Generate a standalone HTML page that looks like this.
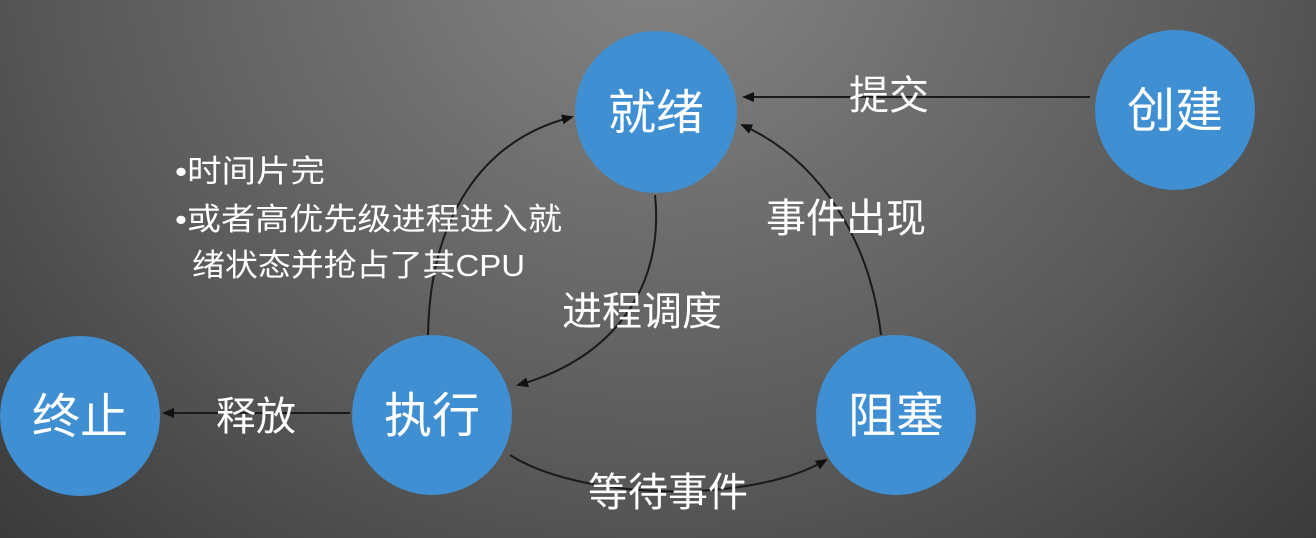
<!DOCTYPE html>
<html><head><meta charset="utf-8"><style>
html,body{margin:0;padding:0;width:1316px;height:538px;overflow:hidden;background:#3a3a3a}
svg{display:block}
text{font-family:"Liberation Sans","Noto Sans CJK SC",sans-serif;fill:#fff}
</style></head><body>
<svg width="1316" height="538" viewBox="0 0 1316 538" xmlns="http://www.w3.org/2000/svg">
<defs>
<radialGradient id="bg" cx="0.5" cy="-0.05" r="0.75" gradientTransform="translate(0.5 0) scale(1 2.2) translate(-0.5 0)">
<stop offset="0" stop-color="#858585"/>
<stop offset="0.6" stop-color="#595959"/>
<stop offset="1" stop-color="#363636"/>
</radialGradient>
<marker id="ah" markerWidth="12" markerHeight="10" refX="10" refY="5" orient="auto" markerUnits="userSpaceOnUse">
<path d="M0,0 L12,5 L0,10 Z" fill="#111"/>
</marker>
</defs>
<rect width="1316" height="538" fill="url(#bg)"/>
<g stroke="#1a1a1a" stroke-width="2" fill="none" marker-end="url(#ah)">
<path d="M1090,97 L744,97"/>
<path d="M350,413 L164,413"/>
<path d="M428,335 C430,220 480,140 572,117"/>
<path d="M655,195 C665,290 610,360 518,385"/>
<path d="M881,335 C870,240 820,160 742,125"/>
<path d="M510,455 C580,500 750,505 826,460"/>
</g>
<g fill="#3f8fd2">
<circle cx="656" cy="112" r="81"/>
<circle cx="1175" cy="110" r="80"/>
<circle cx="80" cy="416" r="80"/>
<circle cx="432" cy="415" r="80"/>
<circle cx="896" cy="415" r="80"/>
</g>
<g font-size="48" text-anchor="middle">
<text x="656" y="129">就绪</text>
<text x="1175" y="127">创建</text>
<text x="80" y="433">终止</text>
<text x="432" y="432">执行</text>
<text x="896" y="432">阻塞</text>
</g>
<g font-size="40" text-anchor="middle">
<text x="889" y="109">提交</text>
<text x="846" y="232">事件出现</text>
<text x="642" y="325">进程调度</text>
<text x="256" y="430">释放</text>
<text x="668" y="506">等待事件</text>
</g>
<g font-size="31">
<text x="175" y="182" textLength="150" lengthAdjust="spacingAndGlyphs">•时间片完</text>
<text x="175" y="230" textLength="387" lengthAdjust="spacingAndGlyphs">•或者高优先级进程进入就</text>
<text x="192" y="276" textLength="333" lengthAdjust="spacingAndGlyphs">绪状态并抢占了其CPU</text>
</g>
</svg>
</body></html>
